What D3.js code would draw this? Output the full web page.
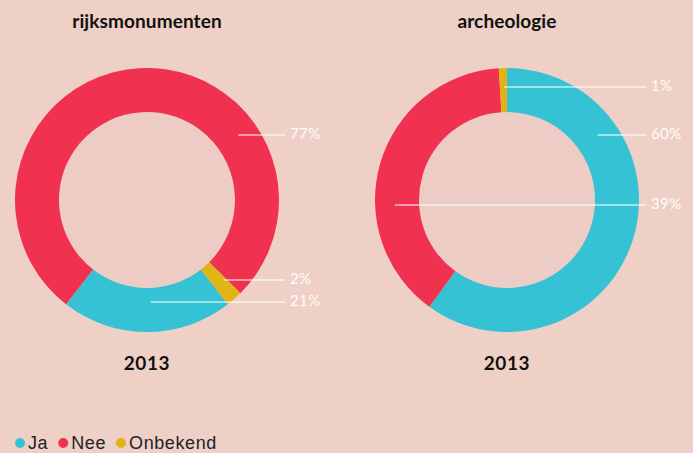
<!DOCTYPE html>
<html>
<head>
<meta charset="utf-8">
<script src="https://cdn.jsdelivr.net/npm/d3@7"></script>
<style>
  html, body { margin: 0; padding: 0; background: #EFD0C6; }
  svg { display: block; }
</style>
</head>
<body>
<svg id="chart" width="693" height="453"></svg>
<script>
// Answer categories and their colours
const categories = ["Ja", "Nee", "Onbekend"];
const colors = ["#35C2D5", "#F03150", "#E0B414"];

// Share per category (percent), one array per donut
const rijksmonumenten = [21, 77, 2];
const archeologie = [60, 39, 1];

const titles = ["rijksmonumenten", "archeologie"];
const years = ["2013", "2013"];

// Callout placement per donut (same order as categories):
// angle on the ring where the leader starts, and the label's vertical offset
const callouts = [
  [{ angle: 178, dy: 101 }, { angle: 54.6, dy: -66 }, { angle: 137, dy: 79 }],
  [{ angle: 54, dy: -66 }, { angle: 270, dy: 4 }, { angle: -1.5, dy: -114 }]
];

const W = 693, H = 453;
const svg = d3.select("#chart");
const outerR = 132, innerR = 88;
const centers = [[147, 200], [507, 200]];
const labelRight = [289, 650];
// The first donut turns so that "Ja" sits centred at the bottom
const startAngles = [Math.PI - (rijksmonumenten[0] / 100) * Math.PI, 0];

const datasets = [rijksmonumenten, archeologie];
const arc = d3.arc().innerRadius(innerR).outerRadius(outerR);
const midR = (innerR + outerR) / 2 + 2;

datasets.forEach((values, i) => {
  const [cx, cy] = centers[i];
  const g = svg.append("g").attr("transform", `translate(${cx},${cy})`);

  const pie = d3.pie().sort(null).value(d => d)
    .startAngle(startAngles[i]).endAngle(startAngles[i] + 2 * Math.PI);

  g.append("circle").attr("r", innerR).attr("fill", "#ECCCC5");

  g.selectAll("path.slice")
    .data(pie(values))
    .join("path")
    .attr("class", "slice")
    .attr("d", arc)
    .attr("fill", (d, k) => colors[k]);

  // leader lines and percentage labels
  values.forEach((v, k) => {
    const c = callouts[i][k];
    const a = c.angle * Math.PI / 180;
    const x0 = Math.sin(a) * midR;
    const y = c.dy + 1;
    const xEnd = labelRight[i] - cx - 4;
    g.append("line")
      .attr("x1", x0).attr("x2", xEnd)
      .attr("y1", y).attr("y2", y)
      .attr("stroke", "#ffffff").attr("stroke-opacity", 0.7)
      .attr("stroke-width", 1.5);
    g.append("text")
      .attr("x", xEnd + 5)
      .attr("y", y - 1)
      .attr("dy", "0.35em")
      .attr("fill", "#ffffff")
      .attr("fill-opacity", 0.95)
      .attr("font-family", "Lato, sans-serif")
      .attr("font-size", 15)
      .attr("letter-spacing", 0.4)
      .text(v + "%");
  });

  svg.append("text")
    .attr("x", cx).attr("y", 28)
    .attr("text-anchor", "middle")
    .attr("font-family", "Lato, sans-serif")
    .attr("font-weight", 700)
    .attr("font-size", 19)
    .attr("letter-spacing", 0.1)
    .attr("fill", "#111")
    .text(titles[i]);

  svg.append("text")
    .attr("x", cx).attr("y", 370)
    .attr("text-anchor", "middle")
    .attr("font-family", "Lato, sans-serif")
    .attr("font-weight", 700)
    .attr("font-size", 19)
    .attr("letter-spacing", 0.6)
    .attr("fill", "#111")
    .text(years[i]);
});

// legend
const legend = svg.append("g").attr("transform", "translate(0,442)");
let lx = 20;
categories.forEach((c, k) => {
  legend.append("circle").attr("cx", lx).attr("cy", 1).attr("r", 5).attr("fill", colors[k]);
  const t = legend.append("text")
    .attr("x", lx + 8).attr("y", 1).attr("dy", "0.35em")
    .attr("font-family", "'Liberation Sans', Arial, sans-serif")
    .attr("font-size", 18)
    .attr("letter-spacing", 0.6)
    .attr("fill", "#222")
    .text(c);
  lx += 8 + t.node().getComputedTextLength() + 15;
});
</script>
</body>
</html>
